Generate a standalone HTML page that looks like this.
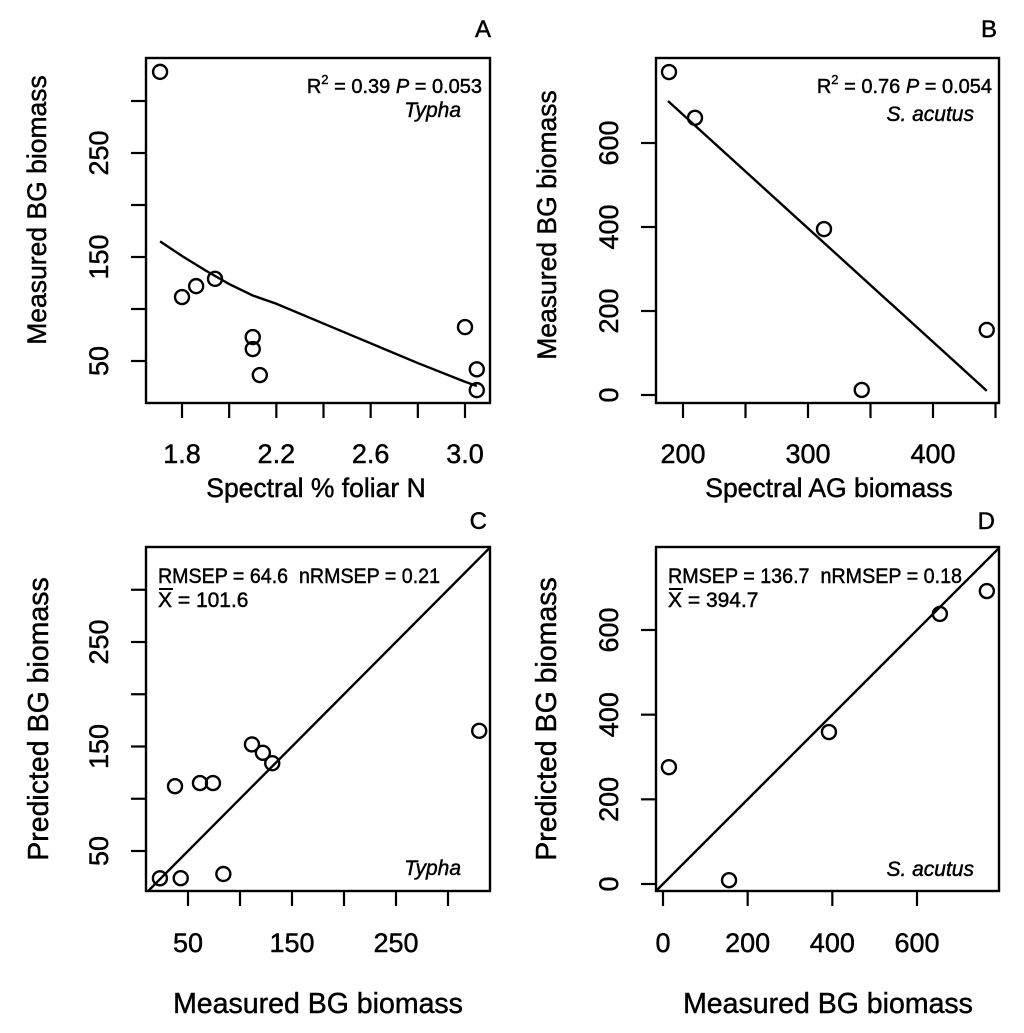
<!DOCTYPE html>
<html><head><meta charset="utf-8">
<style>
html,body{margin:0;padding:0;background:#fff;width:1024px;height:1033px;overflow:hidden;}
svg{display:block;font-family:"Liberation Sans",Arial,sans-serif;}
svg text{stroke:#000;stroke-width:0.45px;}
</style></head>
<body>
<svg id="fig" width="1024" height="1033" viewBox="0 0 1024 1033" xmlns="http://www.w3.org/2000/svg"></svg>
<script>
// Panel A data (Typha): spectral % foliar N vs measured BG biomass
const aX = [1.707, 1.80, 1.86, 1.94, 2.10, 2.10, 2.13, 3.00, 3.05, 3.05];
const aY = [328, 111.5, 122, 129, 73, 61.5, 36.5, 82.6, 42, 22];
const aFitX = [1.707, 1.8, 1.9, 2.0, 2.1, 2.2, 2.4, 2.6, 2.8, 3.0, 3.05];
const aFitY = [165, 151, 137, 124, 113, 105, 86, 67, 48, 30, 26];
const aXTicks = [1.8, 2.0, 2.2, 2.4, 2.6, 2.8, 3.0];
const aXLabels = ["1.8", "", "2.2", "", "2.6", "", "3.0"];
const aYTicks = [50, 100, 150, 200, 250, 300];
const aYLabels = ["50", "", "150", "", "250", ""];
// Panel B data (S. acutus)
const bX = [188.8, 209.6, 312.8, 343, 443];
const bY = [769, 660, 395, 12, 155];
const bFitX = [188, 443];
const bFitY = [700, 10];
const bXTicks = [200, 250, 300, 350, 400, 450];
const bXLabels = ["200", "", "300", "", "400", ""];
const bYTicks = [0, 200, 400, 600];
const bYLabels = ["0", "200", "400", "600"];
// Panel C data (Typha): measured vs predicted
const cX = [23, 43, 84, 37.5, 61.5, 74, 111.5, 122, 131, 330];
const cY = [23.9, 24, 28, 112, 115, 115, 152, 144, 134, 165];
const cXTicks = [50, 100, 150, 200, 250, 300];
const cXLabels = ["50", "", "150", "", "250", ""];
const cYTicks = [50, 100, 150, 200, 250, 300];
const cYLabels = ["50", "", "150", "", "250", ""];
// Panel D data (S. acutus): measured vs predicted
const dX = [14, 156, 392, 654, 765];
const dY = [276, 9, 359, 638, 692];
const dXTicks = [0, 200, 400, 600];
const dXLabels = ["0", "200", "400", "600"];
const dYTicks = [0, 200, 400, 600];
const dYLabels = ["0", "200", "400", "600"];

const NS = "http://www.w3.org/2000/svg";
const svg = document.getElementById("fig");
function mk(tag, attrs, parent, text) {
  const e = document.createElementNS(NS, tag);
  for (const k in attrs) e.setAttribute(k, attrs[k]);
  if (text !== undefined) e.textContent = text;
  (parent || svg).appendChild(e);
  return e;
}
function linScale(d0, d1, r0, r1) { return v => r0 + (v - d0) * (r1 - r0) / (d1 - d0); }

function panel(cfg) {
  const g = mk("g", {});
  
  
  const sx = linScale(cfg.xd[0], cfg.xd[1], cfg.xr[0], cfg.xr[1]);
  const sy = linScale(cfg.yd[0], cfg.yd[1], cfg.yr[0], cfg.yr[1]);
  const L = cfg.box[0], T = cfg.box[1], R = cfg.box[2], B = cfg.box[3];
  const box = mk("rect", {x: L, y: T, width: R - L, height: B - T, fill: "none", stroke: "#000", "stroke-width": 2.4}, g);
  
  
  const xa = mk("g", {}, g);
  
  
  cfg.xt.forEach((v, i) => {
    const x = sx(v);
    const t = mk("line", {x1: x, x2: x, y1: B, y2: B + 15, stroke: "#000", "stroke-width": 2.2}, xa);
    
    
    if (cfg.xl[i]) {
      const lb = mk("text", {x: x, y: cfg.xlY, "font-size": 27, "text-anchor": "middle"}, xa, cfg.xl[i]);
      
      
    }
  });
  const ya = mk("g", {}, g);
  
  
  cfg.yt.forEach((v, i) => {
    const y = sy(v);
    const t = mk("line", {x1: L - 15, x2: L, y1: y, y2: y, stroke: "#000", "stroke-width": 2.2}, ya);
    
    
    if (cfg.yl[i]) {
      const lb = mk("text", {x: 0, y: 0, "font-size": 27, "text-anchor": "middle", transform: `translate(${cfg.ylX},${y}) rotate(-90)`}, ya, cfg.yl[i]);
      
      
    }
  });
  const xt = mk("text", {x: cfg.xTitle[0], y: cfg.xTitle[1], "font-size": cfg.titleSize, "text-anchor": "middle"}, g, cfg.xTitle[2]);
  
  
  const yt = mk("text", {x: 0, y: 0, "font-size": cfg.titleSize, "text-anchor": "middle", transform: `translate(${cfg.yTitle[0]},${cfg.yTitle[1]}) rotate(-90)`}, g, cfg.yTitle[2]);
  
  
  const pl = mk("text", {x: cfg.letter[0], y: cfg.letter[1], "font-size": 24, "text-anchor": "end"}, g, cfg.letter[2]);
  
  
  const cid = "clip" + cfg.letter[2];
  const cp = mk("clipPath", {id: cid}, g);
  mk("rect", {x: L, y: T, width: R - L, height: B - T}, cp);
  if (cfg.fx) {
    const pts = cfg.fx.map((v, i) => sx(v) + "," + sy(cfg.fy[i])).join(" ");
    const fl = mk("polyline", {points: pts, fill: "none", stroke: "#000", "stroke-width": 2.4}, g);
    
    
  }
  if (cfg.diag) {
    const d0 = Math.max(cfg.xd[0], cfg.yd[0]) - 1000, d1 = Math.max(cfg.xd[1], cfg.yd[1]) + 1000;
    const dl = mk("line", {x1: sx(d0), y1: sy(d0), x2: sx(d1), y2: sy(d1), stroke: "#000", "stroke-width": 2.4, "clip-path": `url(#${cid})`}, g);
    
    
  }
  cfg.px.forEach((v, i) => {
    const c = mk("circle", {cx: sx(v), cy: sy(cfg.py[i]), r: 7, fill: "none", stroke: "#000", "stroke-width": 2.4}, g);
    
    
  });
  cfg.notes.forEach(n => {
    const attrs = {x: n.x, y: n.y, "font-size": n.size || 21, "text-anchor": n.anchor || "start", "font-style": n.italic ? "italic" : "normal"};
    if (n.len) { attrs.textLength = n.len; attrs.lengthAdjust = "spacingAndGlyphs"; }
    const t = mk("text", attrs, g);
    
    
    t.innerHTML = n.html;
  });
  if (cfg.bar) {
    const ob = mk("line", {x1: cfg.bar[0], x2: cfg.bar[0] + 14, y1: cfg.bar[1], y2: cfg.bar[1], stroke: "#000", "stroke-width": 2}, g);
    
    
  }
}

panel({name: "panel-a", letter: [491, 37, "A"], box: [146, 58, 490, 403],
  xd: [1.8, 3.0], xr: [182, 465], yd: [50, 250], yr: [361, 153],
  xt: aXTicks, xl: aXLabels, yt: aYTicks, yl: aYLabels, xlY: 463, ylX: 108,
  xTitle: [316, 497, "Spectral % foliar N"], yTitle: [46, 210, "Measured BG biomass"], titleSize: 26.5,
  px: aX, py: aY, fx: aFitX, fy: aFitY,
  notes: [
    {name: "stats-annotation", x: 482, y: 93, size: 20, anchor: "end", html: 'R<tspan font-size="13" dy="-9">2</tspan><tspan dy="9"> = 0.39 </tspan><tspan font-style="italic">P</tspan> = 0.053'},
    {name: "species-label", x: 461, y: 117, anchor: "end", italic: true, html: "Typha"}
  ]});

panel({name: "panel-b", letter: [997, 37, "B"], box: [656, 58, 999, 403],
  xd: [200, 400], xr: [683, 933], yd: [0, 600], yr: [395, 143],
  xt: bXTicks, xl: bXLabels, yt: bYTicks, yl: bYLabels, xlY: 463, ylX: 618,
  xTitle: [829, 497, "Spectral AG biomass"], yTitle: [556, 225, "Measured BG biomass"], titleSize: 26.5,
  px: bX, py: bY, fx: bFitX, fy: bFitY,
  notes: [
    {name: "stats-annotation", x: 992, y: 93, size: 20, anchor: "end", html: 'R<tspan font-size="13" dy="-9">2</tspan><tspan dy="9"> = 0.76 </tspan><tspan font-style="italic">P</tspan> = 0.054'},
    {name: "species-label", x: 974, y: 121, anchor: "end", italic: true, html: "S. acutus"}
  ]});

panel({name: "panel-c", letter: [487, 529, "C"], box: [146, 547, 490, 891],
  xd: [50, 250], xr: [188, 396], yd: [50, 250], yr: [851, 642],
  xt: cXTicks, xl: cXLabels, yt: cYTicks, yl: cYLabels, xlY: 952, ylX: 108,
  xTitle: [318, 1013, "Measured BG biomass"], yTitle: [48, 719, "Predicted BG biomass"], titleSize: 28.5,
  px: cX, py: cY, diag: true, bar: [159, 589],
  notes: [
    {name: "rmsep-annotation", x: 158, y: 583, len: 282, html: "RMSEP = 64.6&#160;&#160;nRMSEP = 0.21"},
    {name: "mean-annotation", x: 158, y: 607, html: 'X = 101.6'},
    {name: "species-label", x: 461, y: 875, anchor: "end", italic: true, html: "Typha"}
  ]});

panel({name: "panel-d", letter: [995, 529, "D"], box: [656, 547, 999, 891],
  xd: [0, 600], xr: [663, 917], yd: [0, 600], yr: [884, 630],
  xt: dXTicks, xl: dXLabels, yt: dYTicks, yl: dYLabels, xlY: 952, ylX: 618,
  xTitle: [828, 1013, "Measured BG biomass"], yTitle: [556, 719, "Predicted BG biomass"], titleSize: 28.5,
  px: dX, py: dY, diag: true, bar: [669, 589],
  notes: [
    {name: "rmsep-annotation", x: 668, y: 583, len: 294, html: "RMSEP = 136.7&#160;&#160;nRMSEP = 0.18"},
    {name: "mean-annotation", x: 668, y: 607, html: 'X = 394.7'},
    {name: "species-label", x: 974, y: 876, anchor: "end", italic: true, html: "S. acutus"}
  ]});
</script>
</body></html>
